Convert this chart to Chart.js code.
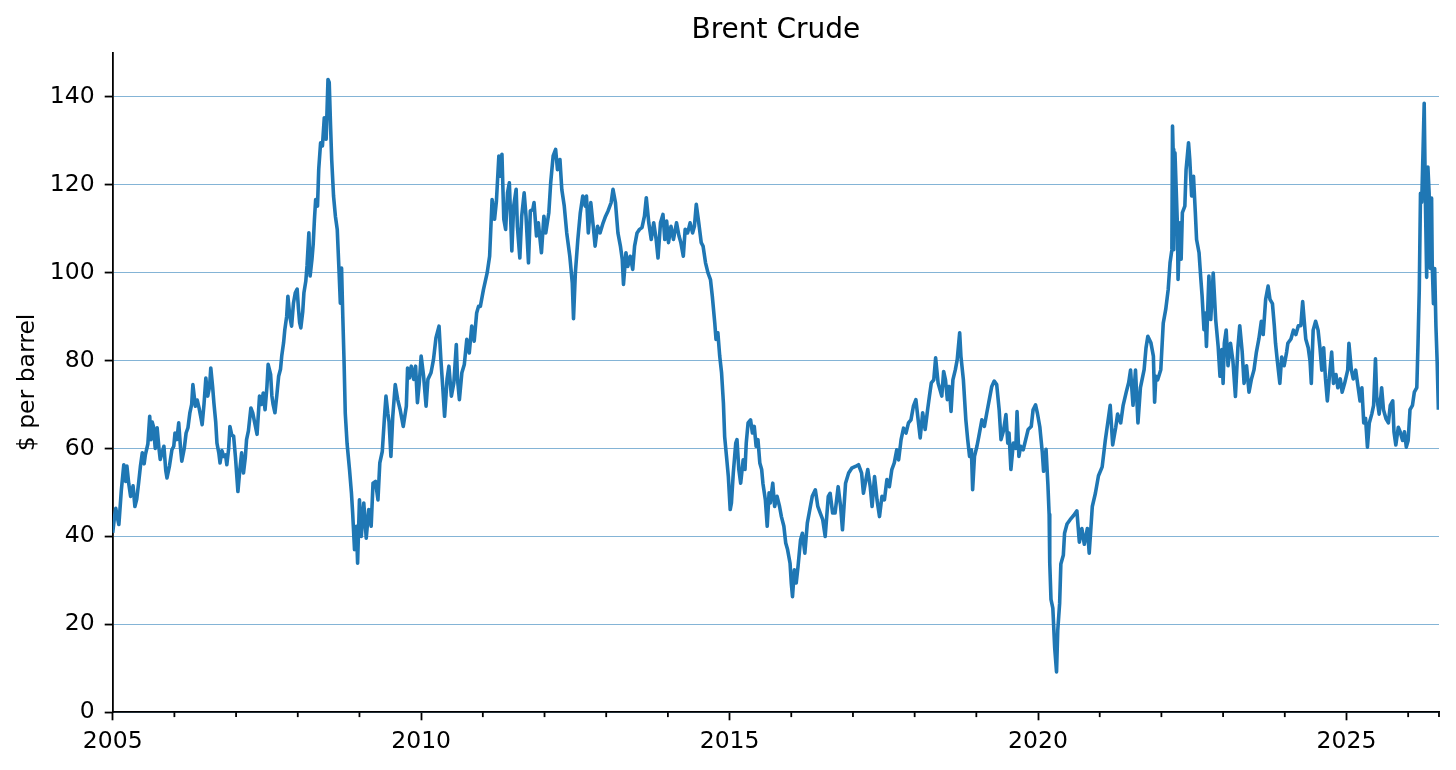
<!DOCTYPE html>
<html>
<head>
<meta charset="utf-8">
<script src="https://cdn.jsdelivr.net/npm/chart.js@4.4.1/dist/chart.umd.min.js"></script>
<style>
html,body{margin:0;padding:0;background:#ffffff;}
#wrap{width:1456px;height:770px;position:relative;}
</style>
</head>
<body>
<div id="wrap"><canvas id="c"></canvas></div>
<script>
// ---- text ----
const chartTitle = 'Brent Crude';
const yAxisLabel = '$ per barrel';

// ---- axes ----
const xRange = [2005, 2026.5];
const yRange = [0, 150];
const yTicks = [0, 20, 40, 60, 80, 100, 120, 140];
const xMajorTicks = [2005, 2010, 2015, 2020, 2025];
const xMinorTicks = [2006, 2007, 2008, 2009, 2011, 2012, 2013, 2014, 2016, 2017, 2018, 2019, 2021, 2022, 2023, 2024, 2026, 2026.5];

// ---- series: [decimal year, $ per barrel] ----
const brentSeries = [
[2005.00,40.8],[2005.03,44.5],[2005.05,46.4],[2005.08,44.0],[2005.10,42.7],[2005.14,50.5],[2005.18,56.3],[2005.21,52.5],[2005.23,56.0],[2005.26,52.0],
[2005.29,49.1],[2005.33,51.5],[2005.36,46.8],[2005.39,48.5],[2005.42,52.1],[2005.45,56.0],[2005.48,59.0],[2005.51,56.5],[2005.53,58.6],[2005.57,61.0],
[2005.60,67.3],[2005.62,62.0],[2005.64,66.0],[2005.66,65.0],[2005.69,60.0],[2005.72,64.7],[2005.75,60.0],[2005.77,57.5],[2005.80,59.0],[2005.83,60.5],
[2005.86,55.0],[2005.88,53.3],[2005.92,56.0],[2005.96,59.7],[2005.99,60.5],
[2006.01,63.5],[2006.04,62.0],[2006.07,65.8],[2006.10,60.0],[2006.12,57.1],[2006.16,60.0],[2006.19,63.5],[2006.22,64.7],[2006.25,68.0],[2006.28,70.0],
[2006.30,74.5],[2006.34,69.6],[2006.37,71.0],[2006.40,69.2],[2006.43,67.0],[2006.45,65.4],[2006.48,70.0],[2006.51,76.0],[2006.54,71.9],[2006.57,74.0],
[2006.59,78.3],[2006.62,74.0],[2006.64,70.4],[2006.67,66.0],[2006.69,61.2],[2006.72,59.0],[2006.74,56.7],[2006.77,59.5],[2006.80,58.2],[2006.83,58.5],
[2006.85,56.3],[2006.88,60.0],[2006.90,65.0],[2006.93,63.0],[2006.96,62.8],[2006.99,58.0],
[2007.03,50.2],[2007.06,55.0],[2007.09,59.0],[2007.12,54.4],[2007.15,58.0],[2007.17,62.0],[2007.20,64.0],[2007.24,69.2],[2007.27,68.1],[2007.30,66.0],
[2007.34,63.2],[2007.38,71.9],[2007.41,70.0],[2007.44,72.6],[2007.47,68.8],[2007.50,74.0],[2007.52,79.1],[2007.56,76.8],[2007.58,72.0],[2007.60,70.0],
[2007.63,68.1],[2007.66,72.0],[2007.69,76.4],[2007.72,78.0],[2007.74,81.0],[2007.77,84.0],[2007.79,87.0],[2007.82,90.0],[2007.84,94.6],[2007.87,90.1],
[2007.90,87.8],[2007.93,93.0],[2007.96,95.4],[2007.99,96.2],
[2008.01,92.0],[2008.03,88.6],[2008.05,87.4],[2008.08,91.0],[2008.10,95.4],[2008.13,98.0],[2008.15,101.5],[2008.18,109.0],[2008.20,99.2],[2008.23,103.0],
[2008.25,106.4],[2008.27,112.0],[2008.29,116.6],[2008.32,115.1],[2008.34,123.5],[2008.37,129.5],[2008.40,128.8],[2008.43,135.2],[2008.46,130.3],[2008.49,143.9],
[2008.51,143.2],[2008.53,134.0],[2008.55,125.7],[2008.58,117.4],[2008.61,112.8],[2008.64,109.8],[2008.67,100.0],[2008.69,93.0],[2008.71,101.0],[2008.73,90.0],
[2008.75,80.0],[2008.77,68.0],[2008.80,61.0],[2008.84,55.0],[2008.87,49.9],[2008.89,45.3],[2008.92,37.0],[2008.95,42.3],[2008.97,33.9],
[2009.00,48.3],[2009.03,40.0],[2009.07,47.6],[2009.11,39.6],[2009.15,46.1],[2009.19,42.3],[2009.22,52.1],[2009.26,52.5],[2009.30,48.3],[2009.33,56.7],
[2009.37,59.3],[2009.41,68.1],[2009.43,71.9],[2009.46,68.0],[2009.48,66.0],[2009.51,58.2],[2009.54,67.3],[2009.58,74.5],[2009.62,71.1],[2009.66,68.8],
[2009.71,65.0],[2009.76,69.6],[2009.78,78.3],[2009.81,76.0],[2009.84,78.7],[2009.88,75.7],[2009.91,78.7],[2009.94,70.4],[2009.97,74.9],
[2010.00,81.0],[2010.04,76.4],[2010.08,69.6],[2010.11,75.7],[2010.16,77.2],[2010.20,80.2],[2010.24,85.1],[2010.29,87.8],[2010.32,80.2],[2010.35,74.0],
[2010.38,67.3],[2010.42,75.7],[2010.45,78.7],[2010.49,71.9],[2010.53,74.9],[2010.57,83.6],[2010.59,75.7],[2010.62,71.1],[2010.66,77.2],[2010.70,79.1],
[2010.74,84.8],[2010.78,81.7],[2010.82,87.8],[2010.86,84.4],[2010.90,90.8],[2010.93,92.3],[2010.96,92.3],
[2011.01,96.1],[2011.07,99.9],[2011.11,103.7],[2011.15,116.6],[2011.19,112.1],[2011.22,116.2],[2011.26,126.5],[2011.28,121.9],[2011.31,126.9],[2011.34,112.1],
[2011.37,109.8],[2011.40,118.1],[2011.43,120.4],[2011.47,104.9],[2011.50,115.1],[2011.54,118.9],[2011.56,110.5],[2011.60,103.3],[2011.63,112.8],[2011.67,118.1],
[2011.70,112.8],[2011.74,102.2],[2011.77,114.0],[2011.81,114.3],[2011.83,115.9],[2011.87,108.3],[2011.90,111.3],[2011.95,104.5],[2011.99,112.8],
[2012.02,109.0],[2012.07,113.6],[2012.10,120.4],[2012.14,126.5],[2012.18,128.0],[2012.21,123.4],[2012.25,125.7],[2012.28,118.9],[2012.32,115.1],[2012.36,109.0],
[2012.41,103.7],[2012.45,97.6],[2012.47,89.5],[2012.50,99.9],[2012.54,107.5],[2012.58,113.6],[2012.62,117.4],[2012.66,115.1],[2012.68,117.4],[2012.71,109.0],
[2012.75,115.9],[2012.79,110.5],[2012.82,106.0],[2012.86,110.5],[2012.90,109.0],[2012.95,111.3],[2012.99,112.8],
[2013.03,114.0],[2013.08,115.9],[2013.11,118.9],[2013.15,115.9],[2013.19,109.0],[2013.23,106.0],[2013.26,103.0],[2013.28,97.3],[2013.32,104.5],[2013.35,101.4],
[2013.39,103.7],[2013.43,100.7],[2013.46,106.0],[2013.50,109.0],[2013.54,109.8],[2013.58,110.2],[2013.62,112.8],[2013.65,117.0],[2013.69,111.3],[2013.73,107.5],
[2013.77,111.3],[2013.81,107.5],[2013.84,103.3],[2013.88,111.3],[2013.92,113.2],[2013.95,107.5],[2013.98,111.7],
[2014.01,106.8],[2014.05,110.5],[2014.09,107.5],[2014.14,111.3],[2014.18,108.3],[2014.21,106.8],[2014.25,103.7],[2014.28,109.8],[2014.32,109.0],[2014.36,111.3],
[2014.40,109.0],[2014.43,110.5],[2014.46,115.5],[2014.50,111.3],[2014.54,106.8],[2014.57,106.0],[2014.61,102.2],[2014.65,99.9],[2014.69,98.4],[2014.72,94.6],
[2014.76,88.5],[2014.78,84.8],[2014.81,86.3],[2014.84,81.0],[2014.87,77.2],[2014.90,70.3],[2014.92,62.7],[2014.95,58.2],[2014.98,53.6],
[2015.01,46.1],[2015.03,47.6],[2015.06,54.4],[2015.10,61.2],[2015.12,62.0],[2015.15,55.2],[2015.18,52.1],[2015.22,57.4],[2015.25,55.2],[2015.27,61.2],
[2015.30,65.8],[2015.34,66.5],[2015.37,63.5],[2015.40,65.0],[2015.43,60.5],[2015.46,62.0],[2015.49,56.7],[2015.52,55.2],[2015.54,52.1],[2015.58,48.3],
[2015.61,42.3],[2015.64,49.9],[2015.66,47.6],[2015.70,52.1],[2015.73,46.8],[2015.77,49.1],[2015.81,46.8],[2015.84,44.5],[2015.88,42.3],[2015.91,38.5],
[2015.94,37.0],[2015.98,33.9],
[2016.00,29.4],[2016.02,26.3],[2016.05,32.4],[2016.08,29.4],[2016.11,33.2],[2016.15,39.2],[2016.18,40.7],[2016.22,36.2],[2016.26,43.0],[2016.29,45.3],
[2016.34,49.1],[2016.39,50.6],[2016.43,46.8],[2016.47,45.3],[2016.51,43.8],[2016.55,40.0],[2016.60,49.1],[2016.63,49.8],[2016.67,45.3],[2016.71,45.3],
[2016.76,51.3],[2016.80,46.8],[2016.83,41.5],[2016.88,52.1],[2016.93,54.4],[2016.98,55.5],
[2017.04,55.9],[2017.09,56.3],[2017.14,54.4],[2017.17,49.8],[2017.21,52.9],[2017.24,55.2],[2017.28,51.3],[2017.31,46.8],[2017.35,53.6],[2017.39,48.3],
[2017.43,44.5],[2017.47,49.1],[2017.51,48.3],[2017.55,52.9],[2017.59,51.3],[2017.63,55.2],[2017.67,56.7],[2017.71,59.7],[2017.74,57.4],[2017.78,62.0],
[2017.82,64.6],[2017.86,63.5],[2017.90,65.8],[2017.94,66.5],[2017.98,69.6],
[2018.02,71.1],[2018.05,67.3],[2018.09,62.4],[2018.13,68.1],[2018.17,64.3],[2018.21,68.8],[2018.24,71.9],[2018.27,74.9],[2018.31,75.6],[2018.34,80.6],
[2018.38,74.9],[2018.41,73.4],[2018.44,71.9],[2018.47,77.5],[2018.50,75.6],[2018.53,71.1],[2018.56,74.1],[2018.59,68.4],[2018.62,75.6],[2018.66,77.9],
[2018.69,80.2],[2018.73,86.3],[2018.75,81.0],[2018.79,75.6],[2018.83,66.5],[2018.86,62.0],[2018.89,58.2],[2018.92,59.7],[2018.94,50.6],[2018.97,58.2],
[2019.01,60.5],[2019.04,62.7],[2019.09,66.5],[2019.13,65.0],[2019.17,68.1],[2019.21,71.1],[2019.25,74.1],[2019.29,75.3],[2019.33,74.5],[2019.37,68.8],
[2019.40,62.0],[2019.44,64.0],[2019.48,67.7],[2019.51,61.2],[2019.53,63.5],[2019.56,55.2],[2019.60,61.2],[2019.64,60.0],[2019.66,68.4],[2019.69,58.2],
[2019.72,60.5],[2019.76,59.7],[2019.80,62.0],[2019.84,64.3],[2019.89,65.0],[2019.92,68.8],[2019.96,69.9],[2019.99,68.0],
[2020.03,64.8],[2020.07,59.0],[2020.09,54.8],[2020.13,59.8],[2020.16,51.8],[2020.18,45.0],[2020.19,34.0],[2020.21,25.7],[2020.24,23.7],[2020.27,14.7],
[2020.30,9.2],[2020.32,18.7],[2020.35,24.7],[2020.37,33.7],[2020.41,35.7],[2020.43,40.7],[2020.47,42.8],[2020.52,43.8],[2020.58,44.8],[2020.63,45.8],
[2020.67,38.7],[2020.71,41.8],[2020.75,38.2],[2020.80,41.8],[2020.83,36.2],[2020.88,46.8],[2020.93,49.8],[2020.98,53.8],
[2021.04,55.8],[2021.09,61.8],[2021.13,65.8],[2021.17,69.8],[2021.21,60.8],[2021.26,64.8],[2021.29,67.8],[2021.34,65.8],[2021.38,69.8],[2021.43,72.8],
[2021.47,75.0],[2021.50,77.8],[2021.54,69.8],[2021.58,77.8],[2021.62,65.8],[2021.66,73.8],[2021.72,77.9],[2021.75,82.8],[2021.78,85.5],[2021.83,84.0],
[2021.87,81.0],[2021.89,70.5],[2021.91,76.4],[2021.94,75.6],[2021.99,77.9],
[2022.03,88.5],[2022.07,91.6],[2022.11,96.1],[2022.14,102.2],[2022.17,105.2],[2022.18,133.3],[2022.19,128.0],[2022.20,105.2],[2022.22,127.2],[2022.26,110.5],
[2022.27,98.4],[2022.30,111.3],[2022.32,103.0],[2022.34,113.6],[2022.38,115.1],[2022.40,123.4],[2022.44,129.5],[2022.46,125.7],[2022.49,117.4],[2022.52,121.9],
[2022.55,113.6],[2022.57,107.5],[2022.61,104.5],[2022.64,98.4],[2022.66,94.6],[2022.69,87.0],[2022.71,90.8],[2022.73,83.2],[2022.77,99.2],[2022.80,89.3],
[2022.84,99.9],[2022.88,89.3],[2022.92,83.2],[2022.95,76.4],[2022.98,82.5],
[2023.00,74.8],[2023.02,83.9],[2023.05,86.9],[2023.08,78.8],[2023.12,83.9],[2023.16,79.8],[2023.20,71.8],[2023.24,82.9],[2023.27,87.9],[2023.31,81.9],
[2023.34,74.8],[2023.38,78.8],[2023.42,72.8],[2023.46,75.8],[2023.50,77.8],[2023.54,81.9],[2023.58,84.9],[2023.62,88.9],[2023.65,85.9],[2023.69,93.9],
[2023.73,96.9],[2023.76,93.9],[2023.80,92.9],[2023.83,87.9],[2023.85,83.9],[2023.88,79.8],[2023.92,74.8],[2023.95,80.8],[2023.99,78.8],
[2024.03,81.9],[2024.05,83.9],[2024.10,84.9],[2024.14,86.9],[2024.18,85.9],[2024.22,87.9],[2024.26,87.9],[2024.29,93.4],[2024.31,89.9],[2024.34,84.9],
[2024.38,82.9],[2024.41,79.8],[2024.43,74.8],[2024.46,86.9],[2024.50,88.9],[2024.54,86.9],[2024.57,82.9],[2024.60,77.8],[2024.63,82.9],[2024.66,75.8],
[2024.69,70.8],[2024.72,75.8],[2024.76,81.9],[2024.79,74.8],[2024.83,76.8],[2024.86,73.8],[2024.90,75.8],[2024.93,72.8],[2024.97,74.8],
[2025.02,77.8],[2025.04,83.9],[2025.08,77.8],[2025.11,75.8],[2025.15,77.8],[2025.19,73.8],[2025.22,70.8],[2025.25,73.8],[2025.28,65.8],[2025.31,66.8],
[2025.34,60.3],[2025.37,65.8],[2025.41,67.8],[2025.44,69.8],[2025.47,80.4],[2025.49,71.8],[2025.53,67.8],[2025.57,73.8],[2025.60,68.8],[2025.64,66.8],
[2025.68,65.8],[2025.71,69.8],[2025.75,70.8],[2025.77,63.8],[2025.80,60.8],[2025.84,64.8],[2025.87,63.8],[2025.91,61.8],[2025.94,63.8],[2025.97,60.3],
[2026.00,61.8],[2026.03,68.8],[2026.07,69.8],[2026.10,72.8],[2026.14,73.8],[2026.16,83.9],[2026.18,95.9],[2026.20,118.0],[2026.22,116.0],[2026.24,127.0],
[2026.26,138.5],[2026.28,116.0],[2026.30,98.9],[2026.32,124.0],[2026.34,118.0],[2026.36,100.9],[2026.38,116.9],[2026.39,101.9],[2026.41,92.9],[2026.43,100.9],
[2026.45,87.9],[2026.47,79.8],[2026.49,68.8]
];

const FONT = "'DejaVu Sans', sans-serif";
const LINE_COLOR = '#1f77b4';

const minorTicksPlugin = {
  id: 'minorTicks',
  afterDraw(chart) {
    const xs = chart.scales.x;
    const ctx = chart.ctx;
    ctx.save();
    ctx.strokeStyle = '#000';
    ctx.lineWidth = 1.8;
    xMinorTicks.forEach(v => {
      const px = xs.getPixelForValue(v);
      ctx.beginPath();
      ctx.moveTo(px, xs.top);
      ctx.lineTo(px, xs.top + 4.8);
      ctx.stroke();
    });
    ctx.restore();
  }
};

new Chart(document.getElementById('c'), {
  type: 'line',
  data: {
    datasets: [{
      label: chartTitle,
      data: brentSeries.map(([x, y]) => ({ x, y })),
      borderColor: LINE_COLOR,
      backgroundColor: LINE_COLOR,
      borderWidth: 3.6,
      pointRadius: 0,
      tension: 0,
      borderJoinStyle: 'round',
      fill: false
    }]
  },
  options: {
    responsive: true,
    maintainAspectRatio: false,
    animation: false,
    layout: { padding: { left: 0, right: 17, top: 0, bottom: 0 } },
    plugins: {
      legend: { display: false },
      tooltip: { enabled: false },
      title: {
        display: true,
        fullSize: false,
        text: chartTitle,
        color: '#000',
        font: { family: FONT, size: 28, weight: 'normal', lineHeight: 1.2 },
        padding: { top: 14, bottom: 5 }
      }
    },
    scales: {
      x: {
        type: 'linear',
        min: xRange[0],
        max: xRange[1],
        afterBuildTicks: s => { s.ticks = xMajorTicks.map(v => ({ value: v })); },
        afterFit: s => { s.height = 57.7; },
        ticks: { callback: v => String(v), color: '#000', font: { family: FONT, size: 23.5 }, padding: 7, maxRotation: 0, autoSkip: false },
        grid: { drawOnChartArea: false, drawTicks: true, tickLength: 8, tickColor: '#000', tickWidth: 1.8 },
        border: { display: true, color: '#000', width: 1.8 }
      },
      y: {
        type: 'linear',
        min: yRange[0],
        max: yRange[1],
        afterBuildTicks: s => { s.ticks = yTicks.map(v => ({ value: v })); },
        afterFit: s => { s.width = 112.7; },
        ticks: { callback: v => String(v), color: '#000', font: { family: FONT, size: 23.5 }, padding: 10 },
        grid: { color: 'rgba(31,119,180,0.55)', lineWidth: 1.1, drawTicks: true, tickLength: 8, tickColor: '#000', tickWidth: 1.8 },
        border: { display: true, color: '#000', width: 1.8 },
        title: { display: true, text: yAxisLabel, color: '#000', font: { family: FONT, size: 23.5 }, padding: { top: 14, bottom: 0 } }
      }
    }
  },
  plugins: [minorTicksPlugin]
});
</script>
</body>
</html>
